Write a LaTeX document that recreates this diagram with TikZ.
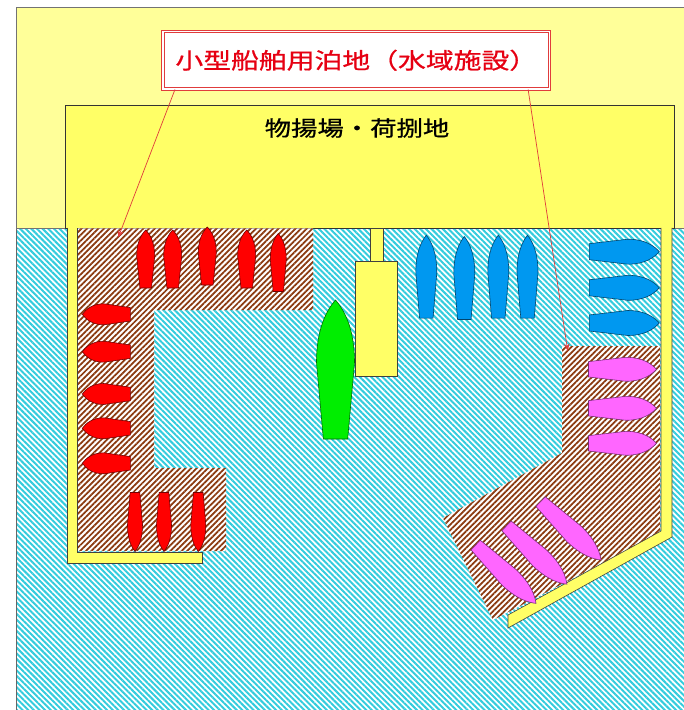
\documentclass[tikz,border=0pt]{standalone}
\usepackage{fontspec}
\newfontfamily\gothic[FakeStretch=1.25,FakeBold=0.8]{Noto Sans CJK JP}
\usetikzlibrary{arrows.meta,calc,patterns.meta}

\definecolor{landpale}{HTML}{FFFF99}
\definecolor{landyel}{HTML}{FFFF66}
\definecolor{seacyan}{HTML}{33CCDD}
\definecolor{berthbrown}{HTML}{8B3A10}
\definecolor{shipred}{HTML}{FF0000}
\definecolor{shipblue}{HTML}{0098F0}
\definecolor{shipgreen}{HTML}{00EE00}
\definecolor{shippink}{HTML}{FF66FF}
\definecolor{leadred}{HTML}{E03C3C}
\definecolor{titlered}{HTML}{E60012}

\begin{document}
\begin{tikzpicture}[
  x=0.03cm, y=-0.03cm,
  land/.style={fill=landpale, draw=black!55, line width=0.5pt},
  yard/.style={fill=landyel, draw=black!80, line width=0.5pt},
  quay/.style={fill=landyel, draw=black!75, line width=0.5pt},
  water/.style={preaction={fill=white},
    pattern={Lines[angle=-45,distance=3.4pt,line width=1.7pt]}, pattern color=seacyan},
  berth/.style={preaction={fill=white},
    pattern={Lines[angle=45,distance=3.4pt,line width=1.5pt]}, pattern color=berthbrown},
  leader/.style={draw=leadred, line width=0.6pt, -{Stealth[length=6pt,width=5pt]}},
  titlebox/.style={draw=leadred, line width=0.8pt, double=white, double distance=1.2pt,
    fill=white, inner sep=0pt, minimum width=11.6cm, minimum height=1.72cm,
    font=\gothic\fontsize{19pt}{19pt}\selectfont, text=titlered},
  % a boat lying along x, bow forward: length, beam, colour
  pics/boat/.style n args={3}{code={
    \filldraw[fill=#3, draw=#3!45!black, line width=0.5pt]
      (-#1/2,0.32*#2) -- (0.05*#1,#2/2)
      .. controls (0.3*#1,#2/2) and (0.43*#1,0.22*#2) .. (#1/2,0)
      .. controls (0.43*#1,-0.22*#2) and (0.3*#1,-#2/2) .. (0.05*#1,-#2/2)
      -- (-#1/2,-0.32*#2) -- cycle;
  }}
]
  \useasboundingbox (0,0) rectangle (684,710);

  % water and land
  \fill[water] (16,228) rectangle (690,715);
  \draw[black!60, line width=0.5pt] (16,228) -- (16,715);
  \draw[land] (16,7) rectangle (690,228);
  \draw[yard] (65,105) rectangle (674,228);
  \node[font=\gothic\fontsize{18pt}{18pt}\selectfont] (yardname) at (357,128) {物揚場・荷捌地};

  % mooring areas
  \path[berth] (77,228.5) -- (313,228.5) -- (313,310) -- (154,310) -- (154,468)
    -- (226,468) -- (226,551) -- (77,551) -- cycle;
  \path[berth] (562,346) -- (660,346) -- (660,533) -- (493,620) -- (443,518)
    -- (562,453) -- cycle;

  % quay walls and pier
  \draw[quay] (67,228) -- (67,563) -- (202,563) -- (202,552) -- (77,552) -- (77,228);
  \draw[quay] (661,228) -- (661,531) -- (508,615) -- (508,628) -- (672,537) -- (672,228);
  \draw[quay] (370.7,228) rectangle (383.3,261.7);
  \draw[quay] (355,261.7) rectangle (397.3,376.7);

  % red boats
  \foreach \x/\y/\w in {145.7/259/18, 172.7/259/18, 207.3/256/18, 246.7/259/18, 278.3/262.5/16}
    \pic[rotate=90] at (\x,\y) {boat={58}{\w}{shipred}};
  \foreach \y in {314.3,351.7,394,428.3,463.3}
    \pic[rotate=180] at (106.3,\y) {boat={48}{21}{shipred}};
  \foreach \x in {135,164,198.3}
    \pic[rotate=-90] at (\x,522) {boat={59}{15}{shipred}};

  % green boat
  \pic[rotate=90] at (335.5,369.5) {boat={139}{38}{shipgreen}};

  % blue boats
  \foreach \x/\y in {426.3/276.7, 464.3/278, 498.3/276.7, 527.5/276.7}
    \pic[rotate=90] at (\x,\y) {boat={83}{21}{shipblue}};
  \foreach \y in {251.7,287.8,323}
    \pic at (624.3,\y) {boat={70}{25}{shipblue}};

  % pink boats
  \foreach \y in {369.3,408.3,443.3}
    \pic at (622.5,\y) {boat={68}{24}{shippink}};
  \foreach \x/\y in {505.8/574.2, 536.7/555, 570.8/530.8}
    \pic[rotate=-44] at (\x,\y) {boat={84}{21}{shippink}};

  % title and leaders
  \node[titlebox] (title) at (356.3,60.3) {小型船舶用泊地（水域施設）};
  \coordinate (berthW) at (118.3,237.3);
  \coordinate (berthE) at (567.7,350.7);
  \draw[leader] ($(title.south west)+(12.5,0)$) -- (berthW);
  \draw[leader] ($(title.south east)+(-22,0)$) -- (berthE);
\end{tikzpicture}
\end{document}
